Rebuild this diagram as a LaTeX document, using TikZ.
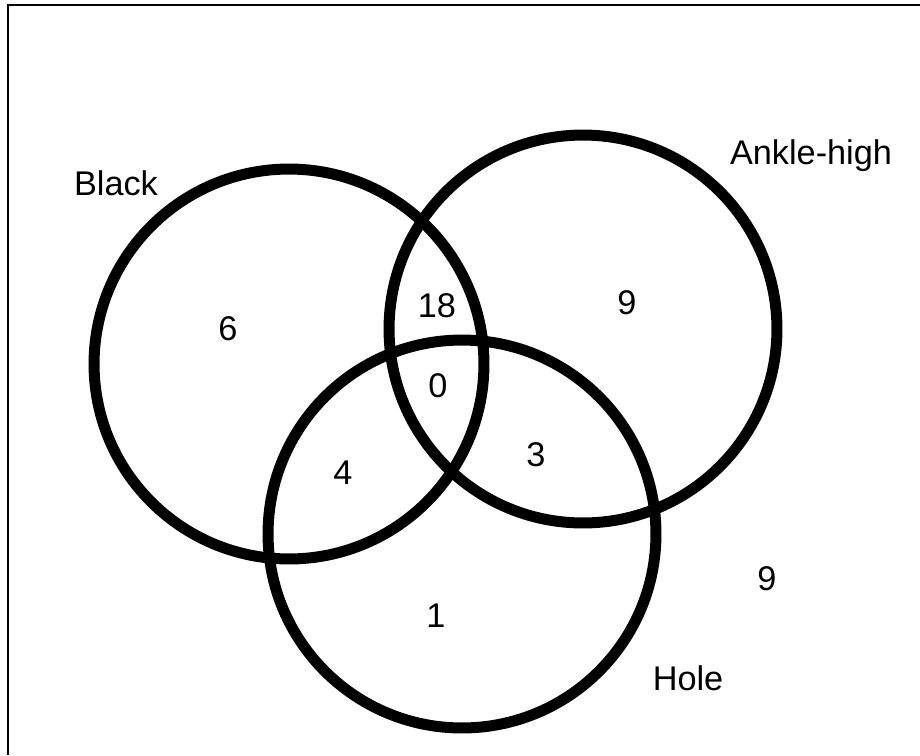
\documentclass[tikz,border=0pt]{standalone}
\usepackage{fontspec}
\setmainfont{Liberation Sans}
\usepackage{tikz}

\begin{document}
\begin{tikzpicture}[
    x=0.02cm, y=-0.02cm,
    ring/.style={draw, line width=0.22cm},
    txt/.style={anchor=base, inner sep=0pt, font=\fontsize{19.5}{23}\selectfont},
    frame/.style={line width=0.04cm}
  ]
    \useasboundingbox (0,0) rectangle (920,755);

    % frame (left and top edge only)
    \coordinate (fbl) at (8,755);
    \coordinate (ftl) at (8,5);
    \coordinate (ftr) at (920,5);
    \draw[frame] (fbl) -- (ftl) -- (ftr);

    % the three sets
    \coordinate (black) at (289,364);
    \coordinate (ankle) at (583,329);
    \coordinate (hole)  at (462,534);
    \draw[ring] (black) circle[radius=3.90cm];
    \draw[ring] (ankle) circle[radius=3.88cm];
    \draw[ring] (hole)  circle[radius=3.88cm];

    % set names
    \node[txt] (lblack) at (116,195) {Black};
    \node[txt] (lankle) at (811,164) {Ankle-high};
    \node[txt] (lhole)  at (688,690) {Hole};

    % counts
    \node[txt] (nb)   at (228,340) {6};
    \node[txt] (nba)  at (437,317) {18};
    \node[txt] (na)   at (627,314) {9};
    \node[txt] (nbah) at (438,397) {0};
    \node[txt] (nbh)  at (343,484) {4};
    \node[txt] (nah)  at (536,466) {3};
    \node[txt] (nh)   at (436,627) {1};
    \node[txt] (nout) at (767,590) {9};
  \end{tikzpicture}
\end{document}
